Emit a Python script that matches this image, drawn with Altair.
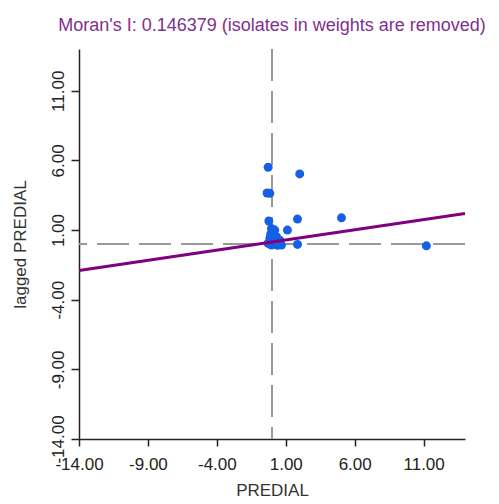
import altair as alt
import pandas as pd

# Scatter data (standardized PREDIAL vs spatial lag)
predial = [-0.28, 2.01, -0.16, -0.36, -0.23, 1.85, 5.04, -0.04, 0.20, 1.12,
           -0.16, 0.33, 0.57, -0.28, -0.04, 0.69, 1.85, 0.15, 11.20, 0.40,
           -0.10, 0.50]
lagged = [5.51, 5.03, 3.64, 3.66, 1.65, 1.79, 1.88, 1.12, 1.00, 1.00,
          0.40, 0.52, 0.28, 0.04, -0.08, -0.08, -0.03, 0.21, -0.13, -0.10,
          0.70, 0.00]

# Regression line end points (slope = Moran's I)
line_x = [-14.0, 14.0]
line_y = [-1.91, 2.19]

# Mean reference lines
mean_x = [0.0]
mean_y = [0.0]

tick_vals = [-14, -9, -4, 1, 6, 11]

pts = pd.DataFrame({"x": predial, "y": lagged})
reg = pd.DataFrame({"x": line_x, "y": line_y})
vx = pd.DataFrame({"x": mean_x})
hy = pd.DataFrame({"y": mean_y})

FONT = "Liberation Sans"
LBL = "replace(format(datum.value, '.2f'), '\u2212', '-')"

xscale = alt.Scale(domain=[-14, 14], nice=False, zero=False)
yscale = alt.Scale(domain=[-14, 14], nice=False, zero=False)

xaxis = alt.Axis(values=tick_vals, labelExpr=LBL, title="PREDIAL", grid=False,
                 labelFlush=False, labelOverlap=False, tickSize=7,
                 labelPadding=10, titlePadding=10)
yaxis = alt.Axis(values=tick_vals, labelExpr=LBL, title="lagged PREDIAL", grid=False,
                 labelFlush=False, labelOverlap=False, tickSize=8,
                 labelAngle=270, labelPadding=4, titlePadding=20)

vline = alt.Chart(vx).mark_rule(color="#999999", strokeWidth=2, strokeDash=[32, 10]).encode(
    x=alt.X("x:Q", scale=xscale, axis=xaxis))
hline = alt.Chart(hy).mark_rule(color="#999999", strokeWidth=2, strokeDash=[32, 10]).encode(
    y=alt.Y("y:Q", scale=yscale, axis=yaxis))
points = alt.Chart(pts).mark_circle(size=80, color="#1560e3", opacity=1).encode(
    x=alt.X("x:Q", scale=xscale, axis=xaxis),
    y=alt.Y("y:Q", scale=yscale, axis=yaxis))
regline = alt.Chart(reg).mark_line(color="#800080", strokeWidth=3).encode(
    x=alt.X("x:Q", scale=xscale, axis=xaxis),
    y=alt.Y("y:Q", scale=yscale, axis=yaxis))

chart = alt.layer(vline, hline, points, regline).properties(
    width=386, height=390,
    autosize=alt.AutoSizeParams(type="none"),
    padding={"left": 71, "top": 41, "right": 26, "bottom": 64},
    title=alt.TitleParams("Moran's I: 0.146379 (isolates in weights are removed)",
                          color="#80308f", fontSize=18, font=FONT,
                          fontWeight="normal", anchor="middle", offset=13),
).configure_view(stroke=None).configure_axis(
    labelFont=FONT, titleFont=FONT, labelFontSize=17, titleFontSize=17,
    labelColor="#222222", titleColor="#333333", titleFontWeight="normal",
    domainColor="#222222", tickColor="#222222", domainWidth=1.5, tickWidth=1.5,
)

chart.save("out.html", embed_options={"renderer": "svg", "actions": False})
